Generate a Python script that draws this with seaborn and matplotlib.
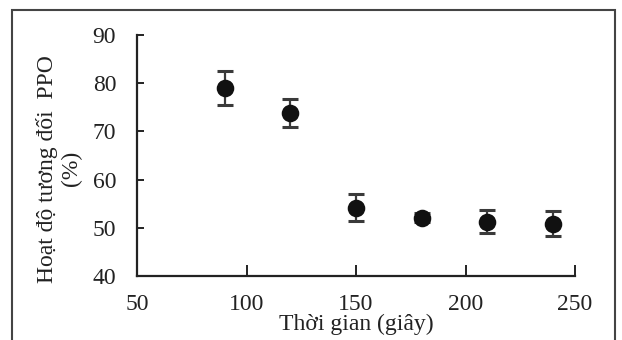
import matplotlib
matplotlib.use("Agg")
import matplotlib.pyplot as plt
import seaborn as sns
import pandas as pd
from matplotlib.patches import Rectangle

time_s = [90, 120, 150, 180, 210, 240]
activity = [79.0, 73.8, 54.2, 52.1, 51.3, 50.8]
err = [3.6, 2.9, 2.8, 1.0, 2.3, 2.6]

sns.set_theme(style="white")
plt.rcParams['font.family'] = ['Liberation Serif', 'DejaVu Serif']

df = pd.DataFrame({"t": time_s, "a": activity, "e": err})

fig = plt.figure(figsize=(6.22, 3.40), dpi=100)
ax = fig.add_axes([137/622, 1-276/340, (575-137)/622, (276-35)/340])

ax.errorbar(df["t"], df["a"], yerr=df["e"], fmt="none", ecolor="#3a3a3a",
            elinewidth=1.6, capsize=6, capthick=2.2, zorder=2)
sns.scatterplot(data=df, x="t", y="a", ax=ax, s=160, color="#111111",
                edgecolor="#111111", linewidth=0, zorder=3, legend=False)

ax.set_xlim(50, 250)
ax.set_ylim(40, 90)
ax.set_xticks([50, 100, 150, 200, 250])
ax.set_yticks([40, 50, 60, 70, 80, 90])
for s in ["top", "right"]:
    ax.spines[s].set_visible(False)
for s in ["left", "bottom"]:
    ax.spines[s].set_color("#222222")
    ax.spines[s].set_linewidth(1.6)
ax.tick_params(axis="both", direction="in", labelsize=17, colors="#222222",
               width=1.4, left=True, bottom=True)
ax.tick_params(axis="y", length=5, pad=15)
ax.tick_params(axis="x", length=8, pad=13)
ax.set_xlabel("Thời gian (giây)", fontsize=17, color="#222222")
ax.xaxis.set_label_coords(0.5, -0.155)
ax.set_ylabel("Hoạt độ tương đối  PPO\n(%)", fontsize=17,
              color="#222222", linespacing=1.2)
ax.yaxis.set_label_coords(-0.125, 0.445)

fig.patches.append(Rectangle((12/622, -0.05), (615-12)/622, 1.05-10/340,
                             transform=fig.transFigure, fill=False,
                             edgecolor="#444444", linewidth=1.5))

fig.savefig("out.png", dpi=100)
